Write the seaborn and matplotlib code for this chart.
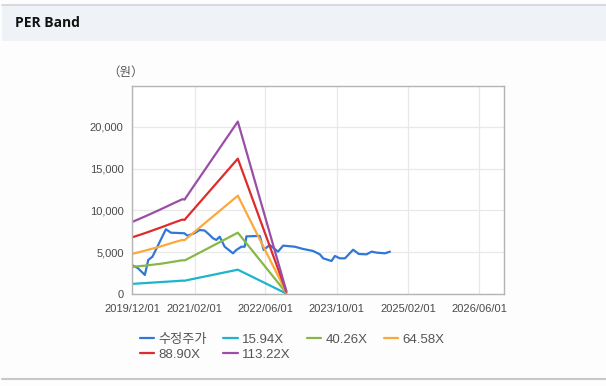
import pandas as pd
import numpy as np
import matplotlib
matplotlib.use('Agg')
import matplotlib.pyplot as plt
import seaborn as sns

# price line (수정주가)
price_dates = ['2019-12-02', '2020-01-10', '2020-02-27', '2020-03-21', '2020-04-19',
               '2020-07-20', '2020-08-23', '2020-11-23', '2020-12-15', '2021-01-30',
               '2021-03-08', '2021-04-11', '2021-05-15', '2021-06-07', '2021-06-30',
               '2021-07-23', '2021-08-26', '2021-10-22', '2021-11-14', '2021-12-18',
               '2022-01-10', '2022-01-22', '2022-04-23', '2022-05-20', '2022-06-30',
               '2022-08-26', '2022-09-30', '2022-12-19', '2023-02-14', '2023-04-23',
               '2023-06-08', '2023-07-01', '2023-08-27', '2023-09-19', '2023-10-23',
               '2023-11-27', '2024-01-22', '2024-03-01', '2024-04-23', '2024-05-27',
               '2024-07-01', '2024-08-27', '2024-09-30']
price_vals = [3450, 3100, 2280, 4070, 4470,
              7750, 7340, 7270, 6980, 7270,
              7660, 7600, 7070, 6670, 6470,
              6860, 5660, 4870, 5270, 5660,
              5660, 6900, 6950, 5270, 5870,
              5070, 5790, 5660, 5390, 5150,
              4750, 4270, 3950, 4550, 4270,
              4270, 5300, 4790, 4750, 5070,
              4950, 4870, 5070]

# PER band lines
band_dates = ['2019-12-02', '2020-03-01', '2020-06-15', '2020-09-15', '2020-11-10',
              '2020-11-25', '2020-12-05', '2021-11-24', '2022-10-22']
band_1594 = [1210, 1310, 1430, 1530, 1600, 1590, 1630, 2910, 50]
band_4026 = [3250, 3400, 3620, 3880, 4040, 4020, 4100, 7340, 125]
band_6458 = [4800, 5200, 5700, 6200, 6470, 6440, 6600, 11770, 200]
band_8890 = [6780, 7300, 7960, 8560, 8910, 8870, 9090, 16200, 275]
band_11322 = [8620, 9300, 10140, 10900, 11350, 11300, 11580, 20640, 350]

series_names = ['수정주가', '15.94X', '40.26X', '64.58X', '88.90X', '113.22X']
colors = ['#2f78d8', '#1db4cc', '#86b847', '#fba93b', '#df2b2b', '#9a4ea6']

xtick_dates = ['2019/12/01', '2021/02/01', '2022/06/01', '2023/10/01', '2025/02/01', '2026/06/01']
ytick_vals = [0, 5000, 10000, 15000, 20000]

frames = [pd.DataFrame({'date': pd.to_datetime(price_dates), 'value': price_vals,
                        'series': series_names[0]})]
for name, vals in zip(series_names[1:], [band_1594, band_4026, band_6458, band_8890, band_11322]):
    frames.append(pd.DataFrame({'date': pd.to_datetime(band_dates), 'value': vals, 'series': name}))
df = pd.concat(frames, ignore_index=True)

sns.set_style('white')
plt.rcParams['font.family'] = ['Liberation Sans', 'Noto Sans CJK KR', 'DejaVu Sans']

fig = plt.figure(figsize=(6.06, 3.86), dpi=100)
fig.patch.set_facecolor('#fdfdfd')

# header band
fig.patches.append(plt.Rectangle((2 / 606, 1 - 41 / 386), 1, 36 / 386, transform=fig.transFigure,
                                 facecolor='#eff3f8', edgecolor='none', zorder=0))
fig.lines.append(plt.Line2D([2 / 606, 1], [1 - 5 / 386, 1 - 5 / 386], transform=fig.transFigure,
                            color='#d0d4da', lw=1.2))
fig.lines.append(plt.Line2D([2 / 606, 1], [1 - 379 / 386, 1 - 379 / 386], transform=fig.transFigure,
                            color='#c8c8c8', lw=1.5))
fig.text(15 / 606, 1 - 23 / 386, 'PER Band', fontsize=10, fontweight='bold', color='#111111',
         va='center', ha='left', family=['Open Sans', 'DejaVu Sans'])

ax = fig.add_axes([132 / 606, 1 - 294 / 386, 372 / 606, 208 / 386])
ax.set_facecolor('white')

sns.lineplot(data=df, x='date', y='value', hue='series', hue_order=series_names,
             palette=colors, estimator=None, sort=False, linewidth=1.6, ax=ax, legend=False)

ax.set_xlim(pd.Timestamp('2019-12-01'), pd.Timestamp('2026-11-19'))
ax.set_ylim(0, 24900)
ax.set_xticks(pd.to_datetime(xtick_dates))
ax.set_xticklabels(xtick_dates)
ax.set_yticks(ytick_vals)
ax.set_yticklabels([f'{v:,}' for v in ytick_vals])
ax.set_xlabel('')
ax.set_ylabel('')
ax.grid(True, color='#e8e8e8', lw=0.9)
ax.set_axisbelow(True)
for s in ax.spines.values():
    s.set_color('#b4b4b4')
    s.set_linewidth(1.0)
ax.tick_params(axis='x', length=4, color='#d8d8d8', labelsize=8, labelcolor='#4a4a4a', pad=3)
ax.tick_params(axis='y', length=0, labelsize=8, labelcolor='#4a4a4a', pad=6)

fig.text(126 / 606, 1 - 72 / 386, '（원）', fontsize=9, color='#555555', ha='center', va='center',
         family=['Noto Sans CJK KR', 'DejaVu Sans'])

# legend fills column by column, so reorder to read row by row
handles = {n: plt.Line2D([], [], color=c, lw=1.6) for n, c in zip(series_names, colors)}
leg_order = ['수정주가', '88.90X', '15.94X', '113.22X', '40.26X', '64.58X']
fig.legend([handles[n] for n in leg_order], leg_order, loc='upper left',
           bbox_to_anchor=(128 / 606, 1 - 322 / 386),
           ncol=4, frameon=False, fontsize=9.5, handlelength=1.1, handletextpad=0.3,
           columnspacing=1.25, labelspacing=0.2, labelcolor='#555555')

fig.savefig('out.png', dpi=100, facecolor=fig.get_facecolor())
